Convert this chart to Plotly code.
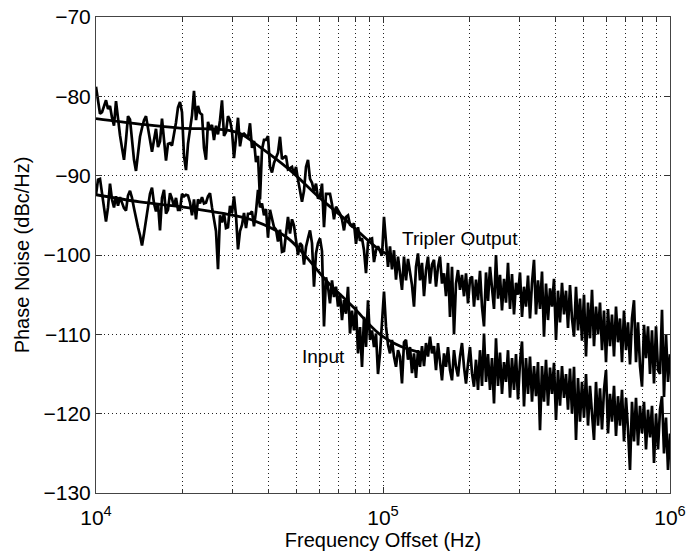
import numpy as np
import plotly.graph_objects as go

# Phase noise readings (dBc/Hz) on a common log-spaced offset sweep, 10 kHz .. 1 MHz
tripler_output = [
    -78.8, -80.4, -82.2, -82.0, -81.1, -80.5, -81.6, -81.2, -82.7, -83.7,
    -80.6, -83.0, -84.9, -86.5, -88.0, -85.5, -82.5, -82.9, -85.4, -88.0,
    -89.4, -87.2, -85.1, -84.0, -83.0, -82.5, -84.0, -85.8, -87.0, -85.5,
    -84.1, -86.4, -85.7, -82.8, -85.4, -88.1, -86.0, -85.9, -86.2, -84.8,
    -83.3, -81.4, -80.7, -82.0, -87.5, -89.3, -86.0, -84.2, -82.4, -79.3,
    -83.0, -81.2, -82.1, -82.3, -86.5, -88.0, -83.2, -84.2, -83.6, -85.5,
    -83.7, -84.8, -83.0, -80.5, -85.0, -84.5, -82.5, -83.0, -84.4, -87.8,
    -85.0, -82.7, -86.3, -84.8, -84.7, -85.0, -85.2, -83.4, -86.5, -85.6,
    -88.3, -87.5, -93.0, -86.7, -85.5, -85.5, -85.0, -88.9, -89.6, -88.4,
    -87.8, -87.1, -85.1, -87.9, -87.7, -87.5, -89.2,
    -89.1, -88.9, -89.9, -88.9, -90.5, -92.2, -93.3, -91.9, -88.9, -88.0,
    -90.4, -90.9, -92.0, -91.0, -92.9, -92.6, -91.0, -96.5, -92.3, -92.3,
    -92.3, -93.6, -95.5, -93.9, -94.3, -94.8, -95.5, -96.9, -95.2, -95.0,
    -96.2, -96.4, -96.0, -98.6, -96.5, -98.2, -97.9, -99.4, -102.3, -98.4,
    -98.0, -97.9, -100.9, -99.4, -98.9, -99.5, -100.1, -95.2,
    -98.0, -101.5, -98.9, -101.8, -99.4, -103.1, -100.2, -102.7, -104.4, -100.2,
    -103.2, -100.5, -102.4, -103.8, -106.5, -101.5, -99.8, -103.2, -101.0, -105.2,
    -101.9, -100.2, -103.6, -101.2, -100.6, -104.0, -101.5, -100.2, -103.6, -102.3,
    -105.2, -101.0, -107.8, -101.5, -110.0, -103.6, -101.9, -104.4, -102.5, -105.2,
    -102.3, -106.1, -103.1, -102.7, -106.5, -103.1, -105.7,
    -102.0, -106.5, -109.0, -102.2, -105.8, -101.5, -104.5, -106.8, -100.0, -105.5,
    -102.5, -107.0, -103.0, -106.0, -101.0, -106.8, -102.4, -107.5, -103.5, -105.0,
    -102.2, -107.8, -104.0, -106.5, -102.6, -108.0, -103.5, -100.6, -107.5, -103.2,
    -106.8, -102.1, -110.3, -103.6, -108.2, -104.2, -106.5, -103.0, -110.7, -104.5,
    -108.5, -103.5, -107.5, -104.5, -109.2, -103.8, -108.0, -110.3, -104.0, -109.5,
    -105.5, -110.8, -105.0, -112.8, -106.0, -110.5, -104.4, -111.5, -106.5, -110.0,
    -106.0, -112.0, -107.0, -113.5, -106.8, -111.5, -107.5, -112.8, -106.5, -111.0,
    -108.0, -113.5, -107.0, -112.0, -108.5, -113.8, -108.0, -105.7, -113.5, -108.5,
    -114.0, -116.6, -108.8, -113.0, -109.0, -115.0, -109.5, -116.2, -109.0, -114.5,
    -115.0, -106.9, -117.9, -110.0, -116.0, -112.5,
]

input_noise = [
    -92.4, -90.5, -90.4, -92.2, -94.2, -95.8, -94.0, -91.0, -93.0, -94.0,
    -92.6, -93.8, -92.7, -93.4, -94.1, -94.4, -92.5, -91.9, -92.8, -94.1,
    -95.5, -96.5, -97.5, -98.8, -97.3, -95.7, -94.3, -92.3, -91.5, -93.5,
    -94.5, -93.5, -96.9, -92.8, -91.8, -94.8, -94.3, -92.2, -92.9, -93.9,
    -92.8, -94.3, -94.3, -92.3, -92.6, -92.4, -92.5, -93.4, -95.0, -93.0,
    -95.5, -93.0, -93.5, -92.7, -93.5, -93.4, -92.6, -92.2, -94.0, -95.3,
    -97.0, -101.8, -95.0, -95.9, -94.7, -96.6, -96.5, -93.8, -94.7, -92.6,
    -95.0, -99.3, -97.0, -96.2, -94.7, -96.6, -94.8, -94.8, -94.5, -96.4,
    -94.5, -91.8, -94.0, -93.5, -95.0, -94.2, -97.8, -94.3, -95.6, -96.5,
    -96.8, -98.3, -96.8, -99.6, -99.5, -97.5, -95.2,
    -97.3, -95.5, -96.3, -98.1, -100.0, -98.5, -98.8, -101.2, -99.0, -97.9,
    -96.9, -98.5, -104.0, -99.8, -98.5, -97.9, -99.5, -109.0, -102.8, -104.0,
    -106.1, -103.2, -105.3, -104.0, -106.5, -104.9, -108.2, -105.7, -107.4, -104.0,
    -109.9, -107.0, -109.5, -106.5, -112.4, -109.1, -114.1, -107.8, -111.6, -105.7,
    -110.7, -109.5, -111.6, -109.9, -115.0, -112.4, -108.0, -104.6,
    -109.0, -111.3, -112.4, -110.7, -112.8, -114.1, -112.0, -112.8, -116.2, -111.0,
    -110.7, -113.2, -111.6, -114.9, -112.4, -115.5, -112.0, -114.1, -111.5, -114.0,
    -111.1, -112.8, -110.3, -112.4, -111.5, -114.5, -111.1, -113.7, -115.8, -112.4,
    -114.1, -111.6, -114.5, -115.8, -112.0, -114.1, -115.3, -112.8, -111.1, -114.1,
    -116.2, -113.7, -111.6, -114.9, -116.6, -113.2, -117.0,
    -112.0, -116.5, -109.9, -116.0, -112.5, -117.0, -113.0, -118.7, -110.5, -116.5,
    -112.3, -117.5, -113.5, -116.0, -112.0, -118.0, -113.0, -117.0, -112.5, -118.2,
    -113.5, -110.9, -119.1, -113.0, -117.5, -112.8, -118.5, -114.0, -117.8, -113.5,
    -122.1, -114.0, -118.5, -113.2, -119.0, -114.2, -117.5, -113.6, -120.8, -114.5,
    -119.0, -114.0, -118.0, -115.0, -119.5, -114.3, -120.0, -114.1, -123.3, -115.5,
    -121.0, -116.0, -120.5, -115.0, -121.5, -116.5, -120.0, -123.3, -116.0, -121.5,
    -116.8, -122.0, -117.0, -114.5, -122.5, -117.5, -121.0, -116.5, -122.8, -117.8,
    -121.5, -117.0, -123.5, -118.0, -122.0, -127.1, -118.5, -123.5, -118.0, -124.0,
    -119.0, -122.5, -118.5, -124.5, -119.5, -123.0, -119.0, -126.2, -120.0, -124.5,
    -119.5, -117.8, -125.0, -120.5, -127.1, -122.5,
]

# Smooth model curves
tripler_fit_freq = [1e4, 1.42e4, 1.96e4, 2.77e4, 3.18e4, 3.73e4, 4.74e4, 5.98e4, 7.43e4, 9.45e4, 1.08e5]
tripler_fit_db = [-82.8, -83.5, -84.0, -84.2, -84.7, -86.4, -89.3, -92.7, -95.6, -99.0, -100.3]
input_fit_freq = [1e4, 1.42e4, 1.96e4, 2.7e4, 3.44e4, 4.59e4, 5.39e4, 6.33e4, 7.84e4, 9.68e4, 1.15e5, 1.35e5]
input_fit_db = [-92.4, -93.3, -93.9, -94.7, -95.5, -97.7, -100.2, -103.2, -106.5, -109.9, -111.5, -112.3]

x_major_vals = [1e4, 1e5, 1e6]
x_major_text = ["10<sup>4</sup>", "10<sup>5</sup>", "10<sup>6</sup>"]
x_minor_vals = [2e4, 3e4, 4e4, 5e4, 6e4, 7e4, 8e4, 9e4,
                2e5, 3e5, 4e5, 5e5, 6e5, 7e5, 8e5, 9e5]
y_tick_vals = [-130, -120, -110, -100, -90, -80, -70]

freq_out = np.logspace(4, 6, len(tripler_output))
freq_in = np.logspace(4, 6, len(input_noise))

FONT = "Liberation Sans, Arial, Helvetica, sans-serif"
GRID_DASH = "1px,3px"

fig = go.Figure()
fig.add_trace(go.Scatter(x=freq_out, y=tripler_output, mode="lines",
                         line=dict(color="black", width=2.7), showlegend=False))
fig.add_trace(go.Scatter(x=freq_in, y=input_noise, mode="lines",
                         line=dict(color="black", width=2.7), showlegend=False))
fig.add_trace(go.Scatter(x=tripler_fit_freq, y=tripler_fit_db, mode="lines",
                         line=dict(color="black", width=2.8, shape="spline"), showlegend=False))
fig.add_trace(go.Scatter(x=input_fit_freq, y=input_fit_db, mode="lines",
                         line=dict(color="black", width=2.8, shape="spline"), showlegend=False))

fig.add_annotation(x=np.log10(1.15e5), y=-97.9, text="Tripler Output", showarrow=False,
                   xanchor="left", yanchor="middle", font=dict(size=19, color="black", family=FONT))
fig.add_annotation(x=np.log10(5.15e4), y=-112.8, text="Input", showarrow=False,
                   xanchor="left", yanchor="middle", font=dict(size=19, color="black", family=FONT))

fig.update_layout(
    width=700, height=555,
    margin=dict(l=96, r=30, t=17, b=62),
    paper_bgcolor="white", plot_bgcolor="white",
    font=dict(family=FONT, size=20, color="black"),
    showlegend=False,
)
fig.update_xaxes(
    type="log", range=[4, 6], automargin=False,
    tickmode="array", tickvals=x_major_vals, ticktext=x_major_text,
    ticks="inside", ticklen=6, tickcolor="#333",
    minor=dict(tickvals=x_minor_vals, ticks="inside", ticklen=4, tickcolor="#333",
               showgrid=True, gridcolor="#222", griddash=GRID_DASH, gridwidth=1),
    showline=True, linecolor="#444", linewidth=1, mirror="ticks",
    showgrid=True, gridcolor="#222", griddash=GRID_DASH, gridwidth=1,
    zeroline=False, ticklabeloverflow="allow", ticklabelstandoff=6,
    title=dict(text="Frequency Offset (Hz)", font=dict(size=20), standoff=2),
    tickfont=dict(size=21),
)
fig.update_yaxes(
    range=[-130, -70], automargin=False,
    tickmode="array", tickvals=y_tick_vals,
    ticks="inside", ticklen=6, tickcolor="#333",
    showline=True, linecolor="#444", linewidth=1, mirror="ticks",
    showgrid=True, gridcolor="#222", griddash=GRID_DASH, gridwidth=1,
    zeroline=False, ticklabeloverflow="allow",
    title=dict(text="Phase Noise (dBc/Hz)", font=dict(size=20), standoff=8),
    tickfont=dict(size=21),
)

# remove the default 8px page margin so the 700x555 figure fills the window exactly
fig.write_html("out.html",
               config={"displayModeBar": False},
               post_script="document.body.style.margin='0px';document.body.style.overflow='hidden';")
